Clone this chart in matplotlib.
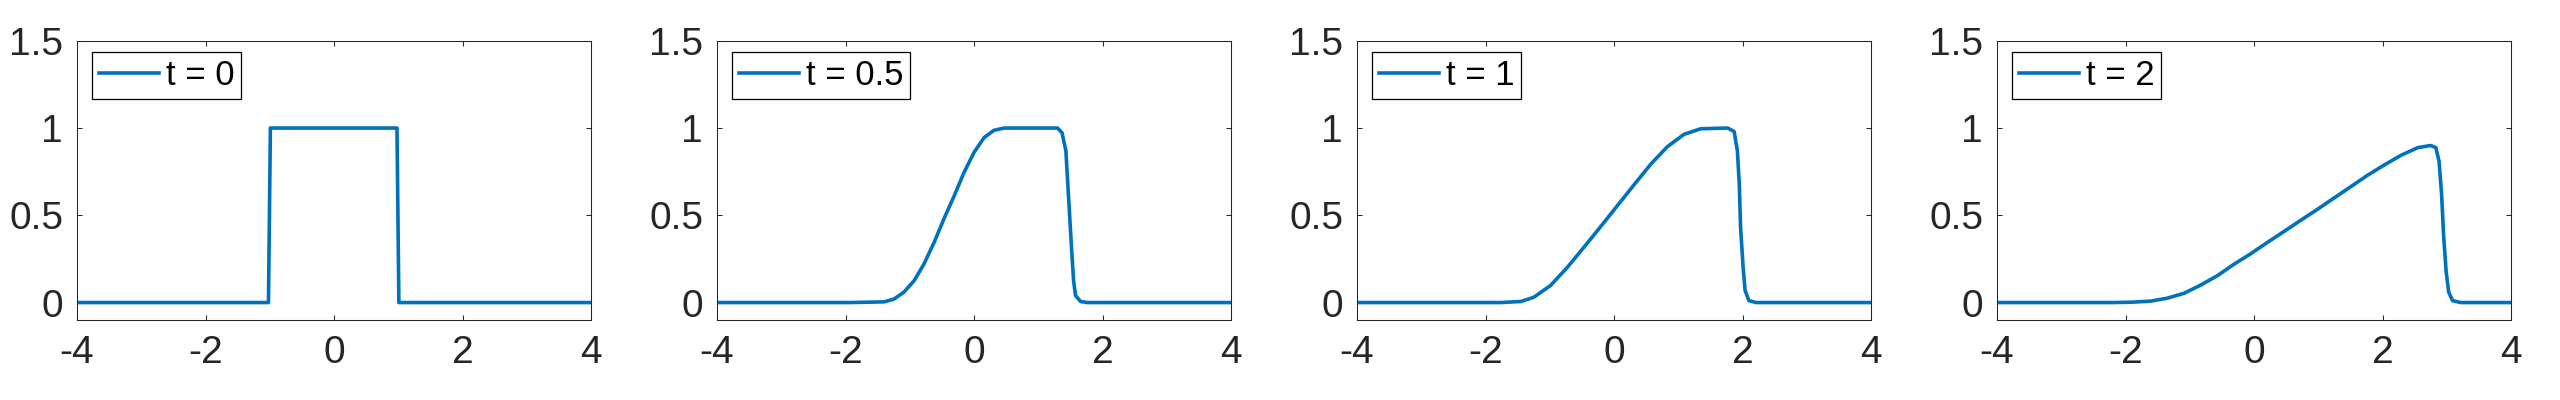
import numpy as np
import matplotlib.pyplot as plt

plt.rcParams['font.family'] = ['Liberation Sans', 'DejaVu Sans']

# values
x_t0 = [-4, -1.02, -0.99, 0.98, 1.01, 4]
u_t0 = [0, 0, 1, 1, 0, 0]

x_t05 = [-4, -1.92, -1.40, -1.245, -1.09, -0.93, -0.78, -0.62, -0.47, -0.31, -0.156, 0.0,
         0.156, 0.31, 0.47, 1.30, 1.37, 1.43, 1.46, 1.49, 1.52, 1.55, 1.58, 1.66, 1.76, 4]
u_t05 = [0, 0, 0.004, 0.02, 0.06, 0.126, 0.22, 0.345, 0.478, 0.61, 0.745, 0.86,
         0.945, 0.987, 1.0, 1.0, 0.973, 0.87, 0.68, 0.49, 0.30, 0.126, 0.04, 0.006, 0, 0]

x_t1 = [-4, -1.77, -1.45, -1.25, -0.99, -0.73, -0.47, -0.21, 0.05, 0.31, 0.57, 0.83,
        1.09, 1.35, 1.77, 1.87, 1.92, 1.95, 1.97, 2.01, 2.04, 2.10, 2.21, 4]
u_t1 = [0, 0, 0.006, 0.03, 0.097, 0.20, 0.316, 0.434, 0.554, 0.674, 0.792, 0.893,
        0.964, 0.996, 1.0, 0.98, 0.87, 0.68, 0.43, 0.20, 0.07, 0.011, 0, 0]

x_t2 = [-4, -2.2, -1.9, -1.61, -1.35, -1.09, -0.83, -0.57, -0.31, -0.05, 0.21, 0.47,
        0.73, 0.99, 1.25, 1.51, 1.77, 2.03, 2.29, 2.55, 2.75, 2.83, 2.88, 2.92, 2.95,
        2.99, 3.03, 3.09, 3.22, 4]
u_t2 = [0, 0, 0.002, 0.008, 0.025, 0.053, 0.10, 0.154, 0.22, 0.28, 0.345, 0.408,
        0.472, 0.535, 0.60, 0.665, 0.73, 0.789, 0.844, 0.888, 0.90, 0.888, 0.81, 0.62, 0.39,
        0.18, 0.06, 0.011, 0, 0]

labels = ["t = 0", "t = 0.5", "t = 1", "t = 2"]
xs = [x_t0, x_t05, x_t1, x_t2]
us = [u_t0, u_t05, u_t1, u_t2]

fig = plt.figure(figsize=(25.6, 4), dpi=100)
dark = '#262626'

for k in range(4):
    ax = fig.add_axes([(640 * k + 77) / 2560, 0.2, 514 / 2560, 0.698])
    ax.plot(xs[k], us[k], color='#0072BD', linewidth=2.6, label=labels[k])
    ax.set_xlim(-4, 4)
    ax.set_ylim(-0.1, 1.5)
    ax.set_xticks([-4, -2, 0, 2, 4])
    ax.set_yticks([0, 0.5, 1, 1.5])
    ax.set_xticklabels(["-4", "-2", "0", "2", "4"])
    ax.set_yticklabels(["0", "0.5", "1", "1.5"])
    ax.tick_params(direction='in', top=True, right=True, length=3.6, width=0.75,
                   color=dark, labelsize=28, labelcolor=dark)
    ax.tick_params(axis='x', pad=11)
    ax.tick_params(axis='y', pad=10)
    for s in ax.spines.values():
        s.set_linewidth(0.75)
        s.set_color(dark)
    leg = ax.legend(loc='upper left', bbox_to_anchor=(0.029, 0.96), borderaxespad=0,
                    fontsize=25, handlelength=1.73, handletextpad=0.2, fancybox=False,
                    framealpha=1, edgecolor='black', borderpad=0.2)
    leg.get_frame().set_linewidth(0.9)

fig.savefig("out.png", dpi=100)
